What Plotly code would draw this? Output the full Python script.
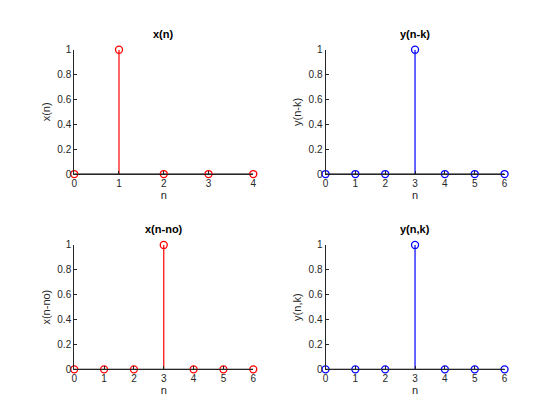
import plotly.graph_objects as go

n1 = [0, 1, 2, 3, 4]
x_n = [0, 1, 0, 0, 0]
n2 = [0, 1, 2, 3, 4, 5, 6]
y_nk = [0, 0, 0, 1, 0, 0, 0]
n3 = [0, 1, 2, 3, 4, 5, 6]
x_nno = [0, 0, 0, 1, 0, 0, 0]
n4 = [0, 1, 2, 3, 4, 5, 6]
y_n_k = [0, 0, 0, 1, 0, 0, 0]

titles = ["x(n)", "y(n-k)", "x(n-no)", "y(n,k)"]
ylabels = ["x(n)", "y(n-k)", "x(n-no)", "y(n,k)"]
xlabel = "n"
colors = ["#FF0000", "#0000FF", "#FF0000", "#0000FF"]
series = [(n1, x_n), (n2, y_nk), (n3, x_nno), (n4, y_n_k)]

W, H = 560, 420
doms = [
    ((72 / W, 253 / W), (1 - 173 / H, 1 - 45 / H)),
    ((326 / W, 507 / W), (1 - 173 / H, 1 - 45 / H)),
    ((72 / W, 253 / W), (1 - 374 / H, 1 - 246 / H)),
    ((326 / W, 507 / W), (1 - 374 / H, 1 - 246 / H)),
]

fig = go.Figure()
font = "Liberation Sans, Arial, Helvetica, sans-serif"
axc = "#262626"
for i, ((xs, ys), col, (xd, yd)) in enumerate(zip(series, colors, doms)):
    k = "" if i == 0 else str(i + 1)
    sx, sy = [], []
    for a, b in zip(xs, ys):
        sx += [a, a, None]
        sy += [0, b, None]
    fig.add_trace(go.Scatter(x=sx, y=sy, mode="lines", line=dict(color=col, width=1.2),
                             xaxis="x" + k, yaxis="y" + k, showlegend=False, hoverinfo="skip"))
    fig.add_trace(go.Scatter(x=[min(xs), max(xs)], y=[0, 0], mode="lines",
                             line=dict(color="black", width=1.2),
                             xaxis="x" + k, yaxis="y" + k, showlegend=False, hoverinfo="skip"))
    fig.add_trace(go.Scatter(x=xs, y=ys, mode="markers", cliponaxis=False,
                             marker=dict(symbol="circle-open", size=7, color=col, line=dict(width=1.3)),
                             xaxis="x" + k, yaxis="y" + k, showlegend=False))
    fig.layout["xaxis" + k] = dict(
        domain=list(xd), range=[min(xs), max(xs)], anchor="y" + k,
        tickmode="array", tickvals=xs, ticktext=[str(v) for v in xs],
        ticks="inside", ticklen=3, tickcolor=axc, showline=True, linecolor=axc, linewidth=1,
        showgrid=False, zeroline=False, tickfont=dict(size=10, color=axc, family=font),
        title=dict(text=xlabel, font=dict(size=11, color=axc, family=font), standoff=2),
    )
    fig.layout["yaxis" + k] = dict(
        domain=list(yd), range=[0, 1], anchor="x" + k,
        tickmode="array", tickvals=[0, 0.2, 0.4, 0.6, 0.8, 1],
        ticktext=["0", "0.2", "0.4", "0.6", "0.8", "1"],
        ticks="inside", ticklen=3, tickcolor=axc, showline=True, linecolor=axc, linewidth=1,
        showgrid=False, zeroline=False, tickfont=dict(size=10, color=axc, family=font),
        title=dict(text=ylabels[i], font=dict(size=11, color=axc, family=font), standoff=4),
    )
    fig.add_annotation(text="<b>" + titles[i] + "</b>", x=(xd[0] + xd[1]) / 2, y=yd[1] + 8 / H,
                       xref="paper", yref="paper", xanchor="center", yanchor="bottom",
                       showarrow=False, font=dict(size=11, color="black", family=font))

fig.update_layout(width=W, height=H, margin=dict(l=0, r=0, t=0, b=0),
                  paper_bgcolor="white", plot_bgcolor="white")
fig.write_html("out.html")
